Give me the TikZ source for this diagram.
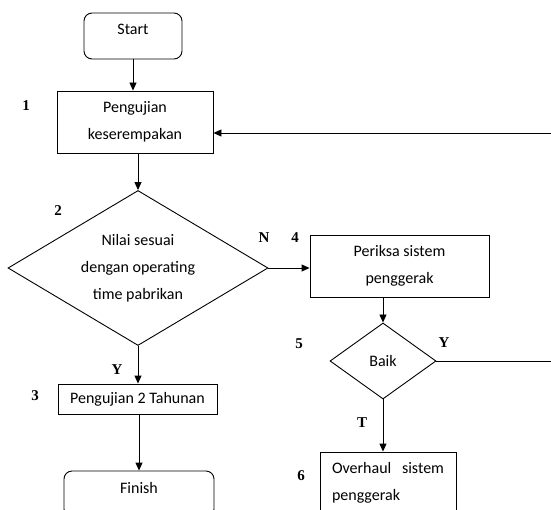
\documentclass[tikz,border=0pt]{standalone}
\usepackage{fontspec}
\setmainfont{Carlito}
\newfontfamily\numfont{Liberation Serif}
\usetikzlibrary{shapes.geometric,arrows.meta,positioning}

\begin{document}
\begin{tikzpicture}[
x=1pt, y=-1pt,
font=\fontsize{16}{27}\selectfont,
line width=0.9pt,
term/.style={draw, rounded corners=8pt, text height=11pt, text depth=13pt, inner sep=0pt},
proc/.style={draw, align=center, inner sep=0pt},
dec/.style={draw, diamond, align=center, inner sep=0pt},
num/.style={font=\numfont\bfseries\fontsize{15}{15}\selectfont},
arr/.style={-{Triangle[length=8pt,width=7pt]}}
]

% Page frame (the drawing is cut at the right and bottom)
\useasboundingbox (0,0) rectangle (551,510);
\clip (0,0) rectangle (551,510);

% Main column
\node[term, minimum width=98pt, minimum height=46pt] (start) at (133,36) {Start};
\node[proc, minimum width=156pt, minimum height=62pt] (uji) at (135,122) {Pengujian\\keserempakan};
\node[dec, aspect=1.68, minimum width=260pt, minimum height=155pt] (nilai) at (138,268) {Nilai sesuai\\dengan operating\\time pabrikan};
\node[proc, minimum width=159pt, minimum height=30pt] (tahunan) at (137.5,399) {Pengujian 2 Tahunan};
\node[term, minimum width=150pt, minimum height=46pt] (finish) at (139,494) {Finish};

% Right column
\node[proc, minimum width=179pt, minimum height=62pt] (periksa) at (399.5,266) {Periksa sistem\\penggerak};
\node[dec, aspect=1.4, minimum width=106pt, minimum height=76pt] (baik) at (383,361) {Baik};
\node[proc, align=justify, text width=112pt, inner xsep=12pt, minimum height=62pt] (overhaul) at (388,483) {Overhaul sistem penggerak};

% Step numbers
\node[num] (n1) at (26,106) {1};
\node[num] (n2) at (58,211) {2};
\node[num] (n3) at (35,396) {3};
\node[num] (n4) at (295,238) {4};
\node[num] (n5) at (299,344) {5};
\node[num] (n6) at (301,476) {6};

% Branch labels
\node[num] (lN) at (264,238) {N};
\node[num] (lY1) at (117,370) {Y};
\node[num] (lY2) at (444,343) {Y};
\node[num] (lT) at (362,423) {T};

% Connectors
\draw[arr] (start) -- (start |- uji.north);
\draw[arr] (uji.south -| nilai.north) -- (nilai.north);
\draw[arr] (nilai.south) -- (nilai.south |- tahunan.north);
\draw[arr] (tahunan.south -| finish.north) -- (finish.north);
\draw[arr] (nilai.east) -- (nilai.east -| periksa.west);
\draw[arr] (baik.north |- periksa.south) -- (baik.north);
\draw[arr] (baik.south) -- (baik.south |- overhaul.north);

% Loop back to step 1
\coordinate (balik) at (575,133);
\draw[arr] (baik.east) -| (balik) -- (balik -| uji.east);

\end{tikzpicture}
\end{document}
